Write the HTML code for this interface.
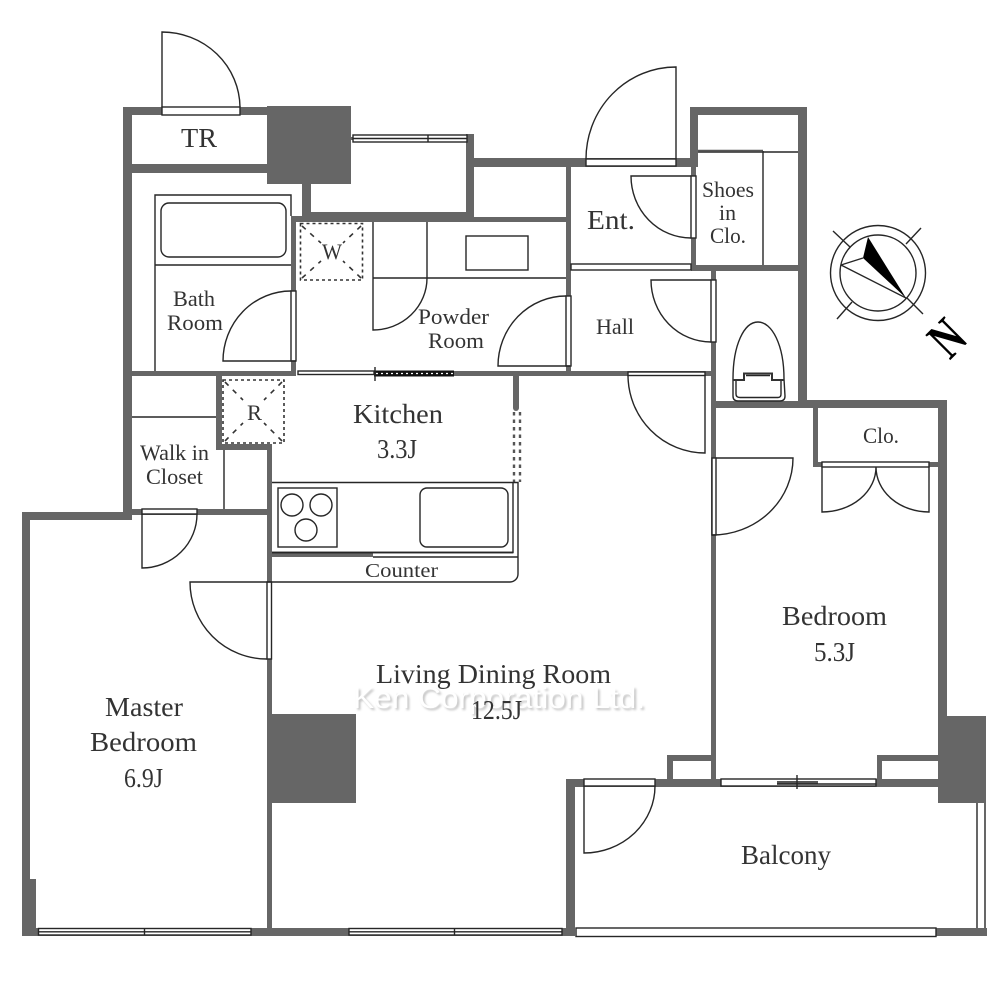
<!DOCTYPE html>
<html lang="en">
<head>
<meta charset="utf-8">
<title>Floor plan</title>
<style>
html,body{margin:0;padding:0;background:#fff}
svg{display:block}
text{font-family:"Liberation Serif",serif;fill:#333}
.w rect{fill:#666;stroke:none}
.l{fill:none;stroke:#262626;stroke-width:1.4}
.f{fill:#fff;stroke:#262626;stroke-width:1.4}
.d{fill:none;stroke:#333;stroke-width:1.6}
.wm{font-family:"Liberation Sans",sans-serif}
</style>
</head>
<body>
<svg width="1000" height="1000" viewBox="0 0 1000 1000" xmlns="http://www.w3.org/2000/svg">
<rect width="1000" height="1000" fill="#fff"/>

<text class="wm" x="355" y="710" font-size="30" textLength="292" lengthAdjust="spacingAndGlyphs" style="fill:#c4c4c4;filter:blur(1px)">Ken Corporation Ltd.</text>
<text class="wm" x="353" y="708" font-size="30" textLength="292" lengthAdjust="spacingAndGlyphs" style="fill:#fff">Ken Corporation Ltd.</text>

<g class="w">
<rect x="123" y="107" width="144" height="8"/>
<rect x="123" y="107" width="9" height="413"/>
<rect x="123" y="164" width="144" height="9"/>
<rect x="267" y="106" width="84" height="78"/>
<rect x="302" y="184" width="9" height="32"/>
<rect x="292" y="216" width="20" height="6"/>
<rect x="302" y="212" width="172" height="10"/>
<rect x="474" y="217" width="92" height="5"/>
<rect x="466" y="134" width="8" height="80"/>
<rect x="466" y="158" width="232" height="9"/>
<rect x="566" y="158" width="5" height="218"/>
<rect x="291" y="216" width="5" height="160"/>
<rect x="123" y="371" width="173" height="5"/>
<rect x="454" y="371" width="257" height="5"/>
<rect x="711" y="265" width="5" height="515"/>
<rect x="690" y="107" width="8" height="60"/>
<rect x="691" y="160" width="5" height="111"/>
<rect x="690" y="107" width="117" height="8"/>
<rect x="798" y="107" width="9" height="301"/>
<rect x="691" y="265" width="107" height="6"/>
<rect x="716" y="401" width="82" height="7"/>
<rect x="798" y="400" width="149" height="8"/>
<rect x="813" y="400" width="5" height="67"/>
<rect x="813" y="462" width="134" height="5"/>
<rect x="938" y="400" width="9" height="320"/>
<rect x="938" y="716" width="48" height="87"/>
<rect x="667" y="755" width="6" height="25"/>
<rect x="667" y="755" width="44" height="6"/>
<rect x="877" y="755" width="5" height="25"/>
<rect x="877" y="755" width="61" height="6"/>
<rect x="566" y="779" width="372" height="8"/>
<rect x="566" y="779" width="9" height="157"/>
<rect x="22" y="928" width="553" height="8"/>
<rect x="936" y="928" width="51" height="8"/>
<rect x="22" y="512" width="110" height="8"/>
<rect x="22" y="512" width="8" height="424"/>
<rect x="22" y="879" width="14" height="57"/>
<rect x="216" y="376" width="6" height="74"/>
<rect x="216" y="444" width="56" height="6"/>
<rect x="267" y="444" width="5" height="492"/>
<rect x="124" y="509" width="148" height="6"/>
<rect x="267" y="714" width="89" height="89"/>
<rect x="272" y="552" width="101" height="5"/>
<rect x="513" y="376" width="6" height="32"/>
<rect x="351" y="137" width="2" height="3"/>
</g>
<circle cx="516" cy="408" r="3" fill="#666"/>

<rect class="f" x="162" y="107" width="78" height="8"/>
<path class="l" d="M162 107V32A78 76 0 0 1 240 107"/>

<rect class="f" x="353" y="135" width="114" height="7"/>
<path class="l" d="M353 138.500H467M428 135V142"/>

<rect class="f" x="586" y="159" width="90" height="7"/>
<path class="l" d="M676 159V67A90 92 0 0 0 586 159"/>

<rect class="f" x="691" y="176" width="5" height="62"/>
<path class="l" d="M691 176H631A60 62 0 0 0 691 238"/>

<rect class="f" x="571" y="264" width="120" height="6"/>

<rect class="f" x="711" y="280" width="5" height="62"/>
<path class="l" d="M711 280H651A60 62 0 0 0 711 342"/>

<rect class="f" x="566" y="296" width="5" height="70"/>
<path class="l" d="M570 366H498A68 70 0 0 1 566 296"/>

<rect class="f" x="291" y="291" width="5" height="70"/>
<path class="l" d="M296 361H223A68 70 0 0 1 291 291"/>

<rect class="f" x="628" y="372" width="77" height="3.500"/>
<path class="l" d="M705 375V453A77 78 0 0 1 628 375"/>

<rect class="f" x="298" y="371" width="76" height="3.500"/>
<rect x="374" y="370.500" width="80" height="6" fill="#111"/>
<path d="M376 373.500H454" stroke="#fff" stroke-width="1.200" stroke-dasharray="2 3" fill="none"/>
<path class="l" d="M375 367V381"/>

<rect class="f" x="142" y="509" width="55" height="5"/>
<path class="l" d="M142 514V568A55 54 0 0 0 197 514"/>

<rect class="f" x="267" y="582" width="4.500" height="77"/>
<path class="l" d="M267 582H190A77 77 0 0 0 267 659"/>

<rect class="f" x="712" y="458" width="4" height="77"/>
<path class="l" d="M716 458H793A81 77 0 0 1 712 535"/>

<rect class="f" x="822" y="462" width="107" height="5"/>
<path class="l" d="M822 467V512A54 45 0 0 0 876 467A53 45 0 0 0 929 512V467"/>

<rect class="f" x="584" y="779" width="71" height="7"/>
<path class="l" d="M584 786V853A71 67 0 0 0 655 786"/>

<rect class="f" x="721" y="779" width="155" height="7"/>
<rect x="777" y="781" width="41" height="3" fill="#555"/>
<path class="l" d="M777 784H876M797 775V789"/>

<rect class="f" x="38.500" y="928.500" width="212.500" height="6.500"/>
<path class="l" d="M38.500 931.800H251M144.500 928.500V935"/>
<rect class="f" x="349" y="928.500" width="213" height="6.500"/>
<path class="l" d="M349 931.800H562M454.500 928.500V935"/>
<rect class="f" x="576" y="928" width="360" height="8.500"/>
<path class="l" d="M977 803V928M985 803V928"/>

<path class="l" d="M155 371V195H291V216M155 265H291"/>
<rect class="l" x="161" y="203" width="125" height="54" rx="8"/>

<path class="l" d="M373 222V330A54 52 0 0 0 427 278V222M373 278H566"/>
<rect class="l" x="466" y="236" width="62" height="34"/>
<rect class="d" x="300.500" y="223.500" width="62" height="56.500" stroke-dasharray="3 3"/>
<path class="d" d="M302 226L321 243M361 226L343 243M302 278L321 261M361 278L343 261" stroke-dasharray="5 6"/>

<rect class="d" x="223" y="380" width="61" height="63" stroke-dasharray="3 3"/>
<path class="d" d="M225 382L243 400M282 382L264 400M225 441L243 423M282 441L264 423" stroke-dasharray="5 6"/>

<path class="l" d="M698 152H798M763 151V265"/>
<path d="M698 150.500H763" stroke="#555" stroke-width="1.500"/>

<path class="l" d="M132 417H216M224 450V509"/>

<path d="M514 412V482M520 412V482" stroke="#555" stroke-width="2.400" stroke-dasharray="3.500 4" fill="none"/>
<path class="l" d="M272 482.500H518V574A8 8 0 0 1 510 582H267M513 482.500V552.500H272M373 557H518"/>
<path d="M272 552.500H513" stroke="#262626" stroke-width="1.800"/>
<rect class="l" x="278" y="488" width="59" height="59"/>
<circle class="l" cx="292" cy="505" r="11"/>
<circle class="l" cx="321" cy="505" r="11"/>
<circle class="l" cx="306" cy="530" r="11"/>
<rect class="l" x="420" y="488" width="88" height="59" rx="7"/>

<path class="l" d="M733 379C733 345 744 322 758 322C772 322 784 345 784 379L785 396Q785 401 780 401H738Q733 401 733 396Z"/>
<path class="l" d="M736 380V394Q736 397.500 740 397.500H778Q781 397.500 781 394V380"/>
<path d="M733 380H744V373.500H772V380H784" fill="none" stroke="#333" stroke-width="2"/>
<path class="l" d="M746 375.500H770"/>

<circle class="l" cx="878" cy="273" r="47.500"/>
<circle class="l" cx="878" cy="273" r="38"/>
<path class="l" d="M833 231L850 247M921 228L906 244M837 319L852 302M923 314L907 298M841 265L863 258M841 265L906 298"/>
<polygon points="868,237 906,298 863,258" fill="#000"/>
<text transform="translate(947 338) rotate(-45) scale(0.72 1)" text-anchor="middle" y="18" font-size="54" font-weight="700" style="fill:#000">N</text>

<g font-size="27">
<text x="181" y="147" textLength="36" lengthAdjust="spacingAndGlyphs">TR</text>
<text x="587" y="229" textLength="48" lengthAdjust="spacingAndGlyphs">Ent.</text>
<text x="353" y="423" textLength="90" lengthAdjust="spacingAndGlyphs">Kitchen</text>
<text x="377" y="458" textLength="40" lengthAdjust="spacingAndGlyphs">3.3J</text>
<text x="376" y="683" textLength="235" lengthAdjust="spacingAndGlyphs">Living Dining Room</text>
<text x="471" y="719" textLength="51" lengthAdjust="spacingAndGlyphs">12.5J</text>
<text x="782" y="625" textLength="105" lengthAdjust="spacingAndGlyphs">Bedroom</text>
<text x="814" y="661" textLength="41" lengthAdjust="spacingAndGlyphs">5.3J</text>
<text x="105" y="716" textLength="78" lengthAdjust="spacingAndGlyphs">Master</text>
<text x="90" y="751" textLength="107" lengthAdjust="spacingAndGlyphs">Bedroom</text>
<text x="124" y="787" textLength="39" lengthAdjust="spacingAndGlyphs">6.9J</text>
<text x="741" y="864" textLength="90" lengthAdjust="spacingAndGlyphs">Balcony</text>
</g>
<g font-size="22">
<text x="173" y="306" textLength="42" lengthAdjust="spacingAndGlyphs">Bath</text>
<text x="167" y="330" textLength="56" lengthAdjust="spacingAndGlyphs">Room</text>
<text x="418" y="324" textLength="71" lengthAdjust="spacingAndGlyphs">Powder</text>
<text x="428" y="348" textLength="56" lengthAdjust="spacingAndGlyphs">Room</text>
<text x="702" y="197" textLength="52" lengthAdjust="spacingAndGlyphs">Shoes</text>
<text x="719" y="220" textLength="17" lengthAdjust="spacingAndGlyphs">in</text>
<text x="710" y="243" textLength="36" lengthAdjust="spacingAndGlyphs">Clo.</text>
<text x="596" y="334" textLength="38" lengthAdjust="spacingAndGlyphs">Hall</text>
<text x="863" y="443" textLength="36" lengthAdjust="spacingAndGlyphs">Clo.</text>
<text x="140" y="460" textLength="69" lengthAdjust="spacingAndGlyphs">Walk in</text>
<text x="146" y="484" textLength="57" lengthAdjust="spacingAndGlyphs">Closet</text>
<text x="322" y="259" textLength="20" lengthAdjust="spacingAndGlyphs">W</text>
<text x="247" y="420" textLength="15" lengthAdjust="spacingAndGlyphs">R</text>
</g>
<text x="365" y="577" font-size="20" textLength="73" lengthAdjust="spacingAndGlyphs">Counter</text>
</svg>
</body>
</html>
